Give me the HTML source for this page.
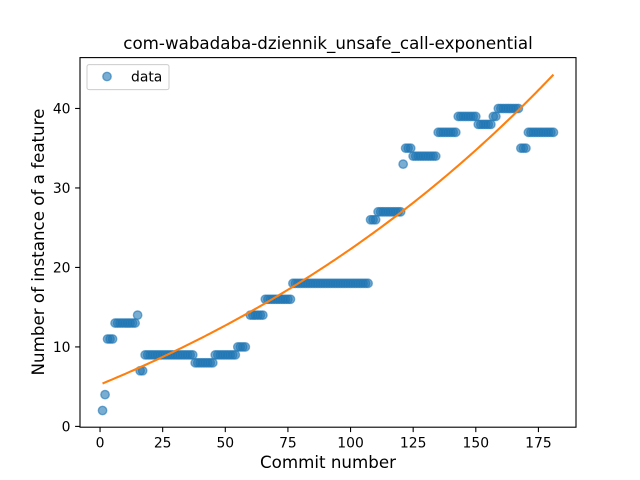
<!DOCTYPE html>
<html><head><meta charset="utf-8"><style>
body{margin:0;background:#fff;font-family:"DejaVu Sans","Liberation Sans",sans-serif}
svg{display:block}
</style></head><body>
<svg id="c" width="640" height="480" xmlns="http://www.w3.org/2000/svg">
<rect width="640" height="480" fill="#fff"/>
<text x="328" y="49" font-size="16.7" text-anchor="middle" font-family="DejaVu Sans, sans-serif">com-wabadaba-dziennik_unsafe_call-exponential</text>
<g id="plot"></g>
<rect x="80" y="57.6" width="496" height="369.6" fill="none" stroke="#000" stroke-width="1.1"/>
<text x="328" y="468" font-size="16.7" text-anchor="middle" font-family="DejaVu Sans, sans-serif">Commit number</text>
<text transform="translate(44,242) rotate(-90)" font-size="16.7" text-anchor="middle" font-family="DejaVu Sans, sans-serif">Number of instance of a feature</text>
<g>
<rect x="87" y="64.6" width="82" height="25" rx="2" fill="#fff" fill-opacity="0.8" stroke="#ccc"/>
<circle cx="107" cy="76.5" r="4.2" fill="#1f77b4" fill-opacity="0.6" stroke="#1f77b4" stroke-opacity="0.6" stroke-width="1.4"/>
<text x="131" y="81.5" font-size="13.9" font-family="DejaVu Sans, sans-serif">data</text>
</g>
</svg>
<script>
const segStart=[1,2,3,6,15,16,18,38,46,55,60,66,77,108,111,121,122,125,135,143,151,157,159,168,171];
const segEnd  =[1,2,5,14,15,17,37,45,54,58,65,76,107,110,120,121,124,134,142,150,156,158,167,170,181];
const segVal  =[2,4,11,13,14,7,9,8,9,10,14,16,18,26,27,33,35,34,37,39,38,39,40,35,37];
const xTicks=[0,25,50,75,100,125,150,175];
const yTicks=[0,10,20,30,40];
const fitA=25.17, fitB=0.00517, fitC=-19.9;
const NS="http://www.w3.org/2000/svg";
const X=v=>80+(v+8)/198*496;
const Y=v=>427.2-(v+0.1)/46.5*369.6;
const svg=document.getElementById('c'), plot=document.getElementById('plot');
function mk(t,a,p){const e=document.createElementNS(NS,t);for(const k in a)e.setAttribute(k,a[k]);(p||svg).appendChild(e);return e;}
const xs=[],ys=[];
segStart.forEach((s,i)=>{for(let x=s;x<=segEnd[i];x++){xs.push(x);ys.push(segVal[i]);}});
xs.forEach((x,i)=>{
 const c=mk('circle',{cx:X(x),cy:Y(ys[i]),r:4.2,fill:'#1f77b4','fill-opacity':0.6,stroke:'#1f77b4','stroke-opacity':0.6,'stroke-width':1.4},plot);
 
 
});
let d='';
for(let x=1;x<=181;x++){const y=fitA*Math.exp(fitB*x)+fitC;d+=(x===1?'M':'L')+X(x).toFixed(2)+','+Y(y).toFixed(2);}
const fl=mk('path',{d:d,fill:'none',stroke:'#ff7f0e','stroke-width':2.1},plot);


xTicks.forEach(t=>{
 const l=mk('line',{x1:X(t),x2:X(t),y1:427.2,y2:432.1,stroke:'#000','stroke-width':1.1});
 
 
 const tx=mk('text',{x:X(t),y:447.5,'font-size':13.9,'text-anchor':'middle','font-family':'DejaVu Sans, sans-serif'});
 tx.textContent=t;
 
 
});
yTicks.forEach(t=>{
 const l=mk('line',{x1:75.1,x2:80,y1:Y(t),y2:Y(t),stroke:'#000','stroke-width':1.1});
 
 
 const tx=mk('text',{x:70.5,y:Y(t)+5,'font-size':13.9,'text-anchor':'end','font-family':'DejaVu Sans, sans-serif'});
 tx.textContent=t;
 
 
});
</script>
</body></html>
